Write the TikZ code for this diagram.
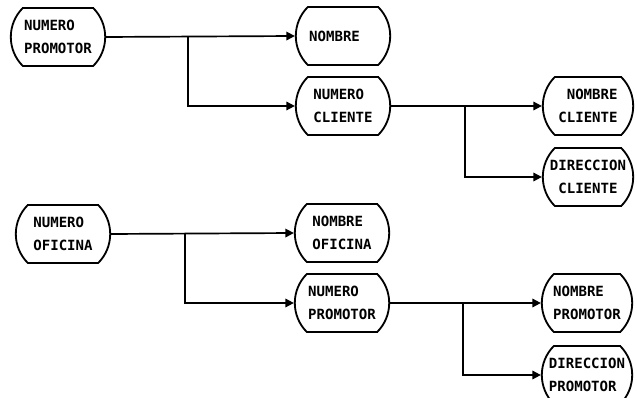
\documentclass[tikz,border=0pt]{standalone}
\usepackage{fontspec}
\newfontfamily\boxfont{DejaVu Sans Mono}
\usetikzlibrary{arrows.meta,shapes.misc}

\begin{document}
\begin{tikzpicture}[x=0.025cm, y=-0.025cm,
  ent/.style    ={draw, line width=1.3pt, rounded rectangle, rounded rectangle arc length=90,
                  minimum width=2.5cm, minimum height=1.45cm, inner sep=2pt,
                  align=left, font=\boxfont\bfseries\fontsize{10}{16.5}\selectfont},
  entr/.style   ={ent, minimum width=2.4cm},
  arr/.style    ={-{Triangle[length=6pt,width=6pt]}, line width=1.2pt}
]
\useasboundingbox (0,0) rectangle (637,398);

%%% ---- PROMOTOR -> CLIENTE (top half) ----------------------------------
\node[ent]  (prom1)  at ( 58, 37) {NUMERO\\PROMOTOR};
\node[ent]  (nom1)   at (343, 36) {NOMBRE\hspace*{1.2em}};
\node[ent]  (numcli) at (343,106) {NUMERO\\CLIENTE};
\node[entr] (nomcli) at (588,106) {\hspace*{0.6em}NOMBRE\\CLIENTE};
\node[entr] (dircli) at (588,177) {DIRECCION\\\hspace*{0.6em}CLIENTE};

\coordinate (j1) at (188, 37);
\coordinate (j2) at (465,106);
\draw[arr] (prom1.east)  -- (nom1.west);
\draw[arr] (j1) |- (numcli.west);
\draw[arr] (numcli.east) -- (nomcli.west);
\draw[arr] (j2) |- (dircli.west);

%%% ---- OFICINA -> PROMOTOR (bottom half) -------------------------------
\node[ent]  (numofi)  at ( 63,234) {NUMERO\\OFICINA};
\node[ent]  (nomofi)  at (342,233) {NOMBRE\\OFICINA};
\node[ent]  (numprom) at (342,303) {NUMERO\\PROMOTOR};
\node[entr] (nomprom) at (587,303) {NOMBRE\\PROMOTOR};
\node[entr] (dirprom) at (587,375) {DIRECCION\\PROMOTOR};

\coordinate (j3) at (185,233);
\coordinate (j4) at (463,303);
\draw[arr] (numofi.east)  -- (nomofi.west);
\draw[arr] (j3) |- (numprom.west);
\draw[arr] (numprom.east) -- (nomprom.west);
\draw[arr] (j4) |- (dirprom.west);

\end{tikzpicture}
\end{document}
